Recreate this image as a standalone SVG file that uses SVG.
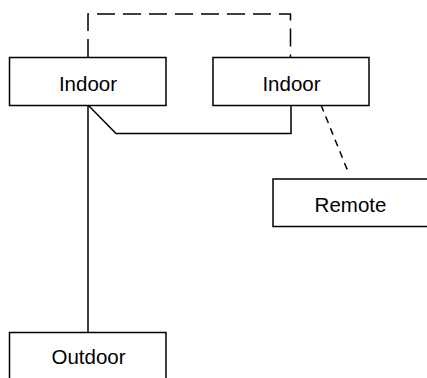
<svg xmlns="http://www.w3.org/2000/svg" width="427" height="378" viewBox="0 0 427 378">
<style>
.box{fill:#fff;stroke:#000;stroke-width:1.5}
.lbl{font-family:"Liberation Sans",Arial,sans-serif;font-size:20.5px;fill:#000;text-anchor:middle}
.wire{fill:none;stroke:#000;stroke-width:1.5}
.ctl{fill:none;stroke:#000;stroke-width:1.5;stroke-dasharray:18 8}
.rem{fill:none;stroke:#000;stroke-width:1.5;stroke-dasharray:7 5.5}
</style>
<rect width="427" height="378" fill="#fff"/>
<g id="connectors">
<path class="ctl" d="M88,57 V14 H290.5 V57"/>
<path class="wire" d="M88,105 L116,133.5 H291 V105"/>
<path class="wire" d="M88,105 V332"/>
<path class="rem" d="M321,105 L349,174"/>
</g>
<g id="indoor1">
<rect class="box" x="9.5" y="57.5" width="156.5" height="48"/>
<text class="lbl" x="88" y="91">Indoor</text>
</g>
<g id="indoor2">
<rect class="box" x="213" y="57.5" width="156" height="48"/>
<text class="lbl" x="291.5" y="91">Indoor</text>
</g>
<g id="remote">
<rect class="box" x="273" y="179" width="156" height="47.5"/>
<text class="lbl" x="350.5" y="211.5">Remote</text>
</g>
<g id="outdoor">
<rect class="box" x="9.5" y="332.5" width="156.5" height="50"/>
<text class="lbl" x="88.5" y="364">Outdoor</text>
</g>
</svg>
